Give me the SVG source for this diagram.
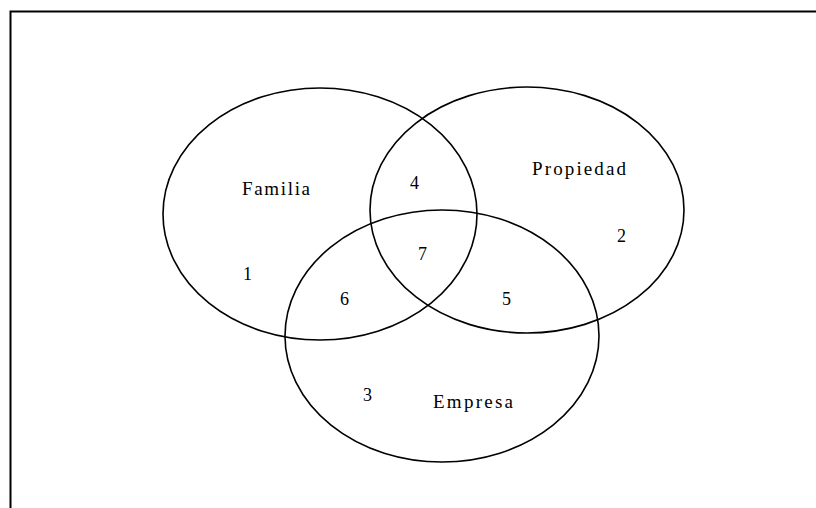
<svg xmlns="http://www.w3.org/2000/svg" width="816" height="508" viewBox="0 0 816 508">
<style>
.c{fill:none;stroke:#000;stroke-width:1.6}
.t{font-family:"Liberation Serif","Times New Roman",serif;font-size:18px;fill:#000}
.w{font-size:19px}
</style>
<rect width="816" height="508" fill="#fff"/>
<g id="frame"><path d="M10.5 508 V11.5 H816" fill="none" stroke="#000" stroke-width="2"/></g>
<g id="familia"><ellipse class="c" cx="320" cy="214" rx="157" ry="126"/><text class="t w" x="242" y="195" textLength="68" lengthAdjust="spacing">Familia</text></g>
<g id="propiedad"><ellipse class="c" cx="527" cy="210" rx="157" ry="123"/><text class="t w" x="532" y="175" textLength="94" lengthAdjust="spacing">Propiedad</text></g>
<g id="empresa"><ellipse class="c" cx="442" cy="336" rx="157" ry="126"/><text class="t w" x="433" y="408" textLength="80" lengthAdjust="spacing">Empresa</text></g>
<g id="regions" class="t">
<text x="243" y="280">1</text>
<text x="617" y="242">2</text>
<text x="363" y="401">3</text>
<text x="410" y="189">4</text>
<text x="502" y="305">5</text>
<text x="340" y="305">6</text>
<text x="418" y="260">7</text>
</g>
</svg>
